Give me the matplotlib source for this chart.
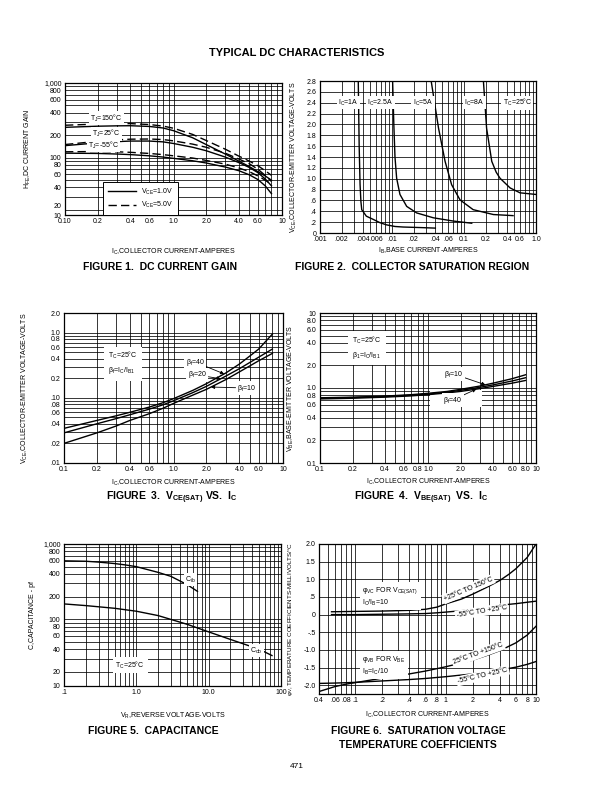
import numpy as np
import matplotlib.pyplot as plt
from matplotlib.ticker import FixedLocator, FixedFormatter, NullFormatter
from matplotlib.lines import Line2D
from matplotlib.patches import Rectangle

plt.rcParams['font.family'] = ['Liberation Sans', 'DejaVu Sans']
plt.rcParams['mathtext.default'] = 'regular'

# ---- figure 1: dc current gain
ic1 = [0.1, 0.2, 0.3, 0.4, 0.6, 0.8, 1.0, 1.5, 2.0, 3.0, 4.0, 5.0, 6.0, 7.0, 8.0]
hfe_150_1v = [255, 264, 267, 268, 262, 250, 230, 185, 150, 112, 90, 76, 65, 57, 50]
hfe_150_5v = [272, 282, 286, 286, 278, 265, 248, 205, 170, 130, 105, 90, 78, 67, 58]
hfe_25_1v = [145, 158, 164, 167, 167, 163, 155, 138, 124, 102, 86, 74, 63, 52, 42]
hfe_25_5v = [150, 166, 173, 177, 178, 175, 168, 152, 138, 115, 96, 83, 70, 58, 48]
hfe_m55_1v = [115, 114, 112, 110, 106, 102, 98, 91, 85, 75, 67, 59, 51, 42, 33]
hfe_m55_5v = [120, 121, 120, 118, 114, 110, 106, 99, 92, 82, 73, 65, 57, 50, 44]

# ---- figure 2: collector saturation region
ib_1a = [0.0034, 0.0035, 0.0036, 0.0037, 0.0038, 0.0044, 0.0055, 0.0068, 0.0084, 0.011, 0.0143, 0.025, 0.04]
vce_1a = [2.8, 1.6, 0.9, 0.58, 0.43, 0.31, 0.25, 0.19, 0.15, 0.12, 0.11, 0.10, 0.09]
ib_25a = [0.0102, 0.0106, 0.011, 0.0116, 0.0129, 0.016, 0.022, 0.0375, 0.071, 0.128]
vce_25a = [2.8, 2.0, 1.4, 1.01, 0.71, 0.49, 0.37, 0.28, 0.22, 0.18]
ib_5a = [0.035, 0.039, 0.0443, 0.0546, 0.0673, 0.088, 0.134, 0.256, 0.48]
vce_5a = [2.8, 2.4, 1.93, 1.32, 0.89, 0.61, 0.43, 0.34, 0.32]
ib_8a = [0.186, 0.195, 0.206, 0.243, 0.28, 0.316, 0.437, 0.6, 1.0]
vce_8a = [2.8, 2.4, 1.93, 1.32, 1.12, 1.01, 0.83, 0.74, 0.71]

# ---- figure 3: vce(sat) vs ic
ic3 = [0.1, 0.2, 0.3, 0.4, 0.6, 0.8, 1.0, 1.5, 2.0, 3.0, 4.0, 5.0, 6.0, 8.0]
vce_b40 = [0.034, 0.045, 0.053, 0.060, 0.072, 0.084, 0.097, 0.13, 0.165, 0.24, 0.33, 0.44, 0.56, 0.95]
vce_b20 = [0.029, 0.040, 0.048, 0.055, 0.067, 0.078, 0.090, 0.12, 0.150, 0.215, 0.28, 0.35, 0.42, 0.56]
vce_b10 = [0.020, 0.029, 0.037, 0.045, 0.057, 0.069, 0.082, 0.11, 0.135, 0.19, 0.25, 0.31, 0.37, 0.48]

# ---- figure 4: vbe(sat) vs ic
ic4 = [0.1, 0.2, 0.4, 0.7, 1.0, 1.5, 2.0, 3.0, 4.0, 6.0, 8.0]
vbe_b10 = [0.74, 0.755, 0.78, 0.815, 0.85, 0.90, 0.96, 1.06, 1.16, 1.33, 1.50]
vbe_b20 = [0.73, 0.745, 0.77, 0.80, 0.83, 0.88, 0.93, 1.02, 1.10, 1.24, 1.37]
vbe_b40 = [0.715, 0.73, 0.755, 0.785, 0.815, 0.86, 0.90, 0.98, 1.05, 1.16, 1.26]

# ---- figure 5: capacitance
vr_ib = [0.1, 0.2, 0.3, 0.5, 0.7, 1.0, 2.0, 3.0, 5.0, 7.0]
cib = [598, 590, 575, 550, 528, 500, 420, 372, 290, 235]
vr_ob = [0.1, 0.2, 0.5, 1.0, 2.0, 5.0, 10, 20, 50, 75]
cob = [160, 152, 140, 128, 112, 86, 68, 54, 40, 33]

# ---- figure 6: temperature coefficients
ic6 = [0.055, 0.1, 0.2, 0.4, 0.6, 0.8, 1.0, 1.5, 2.0, 3.0, 4.0, 5.0, 6.0, 8.0, 10]
vc_hot = [0.08, 0.09, 0.10, 0.12, 0.15, 0.21, 0.30, 0.44, 0.58, 0.80, 0.97, 1.14, 1.30, 1.62, 2.0]
vc_cold = [0.0, 0.0, 0.01, 0.02, 0.03, 0.05, 0.07, 0.11, 0.15, 0.21, 0.26, 0.29, 0.31, 0.35, 0.38]
ic6b = [0.04, 0.06, 0.08, 0.1, 0.2, 0.4, 0.6, 1.0, 2.0, 3.0, 4.0, 6.0, 8.0, 10]
vb_hot = [-2.18, -2.04, -1.97, -1.93, -1.80, -1.68, -1.60, -1.48, -1.29, -1.14, -1.02, -0.80, -0.58, -0.33]
vb_cold = [-1.95, -1.94, -1.93, -1.92, -1.88, -1.84, -1.81, -1.76, -1.68, -1.62, -1.57, -1.49, -1.41, -1.33]

W, H = 594, 791
fig = plt.figure(figsize=(W / 100, H / 100), dpi=100)


def add_ax(x0, y0, x1, y1):
    # page pixel box -> axes
    return fig.add_axes([x0 / W, 1 - y1 / H, (x1 - x0) / W, (y1 - y0) / H])


def style(ax, xt, xl, yt, yl):
    ax.xaxis.set_major_locator(FixedLocator(xt))
    ax.xaxis.set_major_formatter(FixedFormatter(xl))
    ax.yaxis.set_major_locator(FixedLocator(yt))
    ax.yaxis.set_major_formatter(FixedFormatter(yl))
    ax.xaxis.set_minor_formatter(NullFormatter())
    ax.yaxis.set_minor_formatter(NullFormatter())
    ax.tick_params(which='both', length=0, labelsize=5, pad=2.5)
    ax.grid(which='both', color='k', lw=0.55)
    for s in ax.spines.values():
        s.set_linewidth(0.9)


def labels(ax, xlab, ylab, xly, ylx, ysize=5):
    ax.set_xlabel(xlab, fontsize=5)
    ax.set_ylabel(ylab, fontsize=ysize)
    ax.xaxis.set_label_coords(0.5, xly)
    ax.yaxis.set_label_coords(ylx, 0.5)


def logi(x, xs, ys):
    return float(np.exp(np.interp(np.log(x), np.log(xs), np.log(ys))))


def cap(x, y, s):
    fig.text(x / W, 1 - y / H, s, ha='center', va='center', fontsize=7.5, fontweight='bold')


box = dict(fc='white', ec='none', pad=1)
arr = dict(arrowstyle='-|>', lw=0.6, color='k', mutation_scale=5, shrinkA=0, shrinkB=0)
lw = 1.0

# figure 1
ax1 = add_ax(65, 83, 282, 215)
ax1.set_xscale('log')
ax1.set_yscale('log')
ax1.set_xlim(0.1, 10)
ax1.set_ylim(17.1, 1000)
ax1.plot(ic1, hfe_150_1v, 'k-', lw=lw)
ax1.plot(ic1, hfe_150_5v, 'k', ls=(0, (6, 3)), lw=lw)
ax1.plot(ic1, hfe_25_1v, 'k-', lw=lw)
ax1.plot(ic1, hfe_25_5v, 'k', ls=(0, (6, 3)), lw=lw)
ax1.plot(ic1, hfe_m55_1v, 'k-', lw=lw)
ax1.plot(ic1, hfe_m55_5v, 'k', ls=(0, (6, 3)), lw=lw)
style(ax1, [0.1, 0.2, 0.4, 0.6, 1, 2, 4, 6, 10],
      ['0.10', '0.2', '0.4', '0.6', '1.0', '2.0', '4.0', '6.0', '10'],
      [17.1, 20, 40, 60, 80, 100, 200, 400, 600, 800, 1000],
      ['10', '20', '40', '60', '80', '100', '200', '400', '600', '800', '1,000'])
ax1.yaxis.get_major_ticks()[1].label1.set_verticalalignment('bottom')
labels(ax1, 'I$_C$,COLLECTOR CURRENT-AMPERES', 'H$_{FE}$,DC CURRENT GAIN', -0.242, -0.147)
ax1.text(0.17, 340, 'T$_J$=150°C', fontsize=5, va='center', bbox=box)
ax1.text(0.178, 210, 'T$_J$=25°C', fontsize=5, va='center', bbox=box)
ax1.text(0.163, 146, 'T$_J$=-55°C', fontsize=5, va='center', bbox=box)
h1 = [Line2D([], [], color='k', lw=lw), Line2D([], [], color='k', lw=lw, ls=(0, (6, 3)))]
leg = ax1.legend(h1, ['V$_{CE}$=1.0V', 'V$_{CE}$=5.0V'], loc='upper left',
                 bbox_to_anchor=(0.16, 0.28), fontsize=5, fancybox=False,
                 edgecolor='k', framealpha=1, handlelength=4, borderpad=0.7)
leg.get_frame().set_linewidth(0.7)
cap(160, 267, 'FIGURE 1.  DC CURRENT GAIN')

# figure 2
ax2 = add_ax(320, 81, 536, 233)
ax2.set_xscale('log')
ax2.set_xlim(0.001, 1.0)
ax2.set_ylim(0, 2.8)
ax2.plot(ib_1a, vce_1a, 'k-', lw=lw)
ax2.plot(ib_25a, vce_25a, 'k-', lw=lw)
ax2.plot(ib_5a, vce_5a, 'k-', lw=lw)
ax2.plot(ib_8a, vce_8a, 'k-', lw=lw)
style(ax2, [0.001, 0.002, 0.004, 0.006, 0.01, 0.02, 0.04, 0.06, 0.1, 0.2, 0.4, 0.6, 1.0],
      ['.001', '.002', '.004', '.006', '.01', '.02', '.04', '.06', '0.1', '0.2', '0.4', '0.6', '1.0'],
      list(np.arange(0, 2.81, 0.2)),
      ['0', '.2', '.4', '.6', '.8', '1.0', '1.2', '1.4', '1.6', '1.8', '2.0', '2.2', '2.4', '2.6', '2.8'])
labels(ax2, 'I$_B$,BASE CURRENT-AMPERES', 'V$_{CE}$,COLLECTOR-EMITTER VOLTAGE-VOLTS', -0.082, -0.097)
for xx, s in [(0.0025, 'I$_C$=1A'), (0.0069, 'I$_C$=2.5A'), (0.027, 'I$_C$=5A'),
              (0.14, 'I$_C$=8A'), (0.55, 'T$_C$=25°C')]:
    ax2.text(xx, 2.4, s, fontsize=5, ha='center', va='center', bbox=box)
cap(412, 267, 'FIGURE 2.  COLLECTOR SATURATION REGION')

# figure 3
ax3 = add_ax(64, 313, 283, 463)
ax3.set_xscale('log')
ax3.set_yscale('log')
ax3.set_xlim(0.1, 10)
ax3.set_ylim(0.01, 2.0)
ax3.plot(ic3, vce_b40, 'k-', lw=lw)
ax3.plot(ic3, vce_b20, 'k-', lw=lw)
ax3.plot(ic3, vce_b10, 'k-', lw=lw)
style(ax3, [0.1, 0.2, 0.4, 0.6, 1, 2, 4, 6, 10],
      ['0.1', '0.2', '0.4', '0.6', '1.0', '2.0', '4.0', '6.0', '10'],
      [0.01, 0.02, 0.04, 0.06, 0.08, 0.1, 0.2, 0.4, 0.6, 0.8, 1.0, 2.0],
      ['.01', '.02', '.04', '.06', '.08', '.10', '0.2', '0.4', '0.6', '0.8', '1.0', '2.0'])
labels(ax3, 'I$_C$,COLLECTOR CURRENT-AMPERES', 'V$_{CE}$,COLLECTOR-EMITTER VOLTAGE-VOLTS', -0.097, -0.155)
ax3.text(0.2, 0.665, 'T$_C$=25°C\nβ$_f$=I$_C$/I$_{B1}$', transform=ax3.transAxes, fontsize=5,
         va='center', linespacing=1.6, bbox=dict(fc='white', ec='none', pad=3))
ax3.annotate('β$_f$=40', xy=(2.9, logi(2.9, ic3, vce_b40)), xytext=(0.555, 0.673),
             textcoords='axes fraction', fontsize=5, va='center', arrowprops=arr, bbox=box)
ax3.annotate('β$_f$=20', xy=(2.7, logi(2.7, ic3, vce_b20)), xytext=(0.565, 0.587),
             textcoords='axes fraction', fontsize=5, va='center', arrowprops=arr, bbox=box)
ax3.annotate('β$_f$=10', xy=(2.2, logi(2.2, ic3, vce_b10)), xytext=(0.79, 0.5),
             textcoords='axes fraction', fontsize=5, va='center', arrowprops=arr, bbox=box)
cap(172, 498, 'FIGURE  3.  V$_{CE(SAT)}$ VS.  I$_C$')

# figure 4
ax4 = add_ax(320, 313, 536, 463)
ax4.set_xscale('log')
ax4.set_yscale('log')
ax4.set_xlim(0.1, 10)
ax4.set_ylim(0.1, 10)
ax4.add_patch(Rectangle((0.51, 0.373), 0.24, 0.113, transform=ax4.transAxes,
                        fc='white', ec='none', zorder=1.8))
ax4.plot(ic4, vbe_b10, 'k-', lw=lw)
ax4.plot(ic4, vbe_b20, 'k-', lw=lw)
ax4.plot(ic4, vbe_b40, 'k-', lw=lw)
style(ax4, [0.1, 0.2, 0.4, 0.6, 0.8, 1, 2, 4, 6, 8, 10],
      ['0.1', '0.2', '0.4', '0.6', '0.8', '1.0', '2.0', '4.0', '6.0', '8.0', '10'],
      [0.1, 0.2, 0.4, 0.6, 0.8, 1, 2, 4, 6, 8, 10],
      ['0.1', '0.2', '0.4', '0.6', '0.8', '1.0', '2.0', '4.0', '6.0', '8.0', '10'])
labels(ax4, 'I$_C$,COLLECTOR CURRENT-AMPERES', 'V$_{BE}$,BASE-EMITTER VOLTAGE-VOLTS', -0.09, -0.111)
ax4.text(0.15, 0.77, 'T$_C$=25°C\nβ$_1$=I$_C$/I$_{B1}$', transform=ax4.transAxes, fontsize=5,
         va='center', linespacing=1.6, bbox=dict(fc='white', ec='none', pad=3))
ax4.annotate('β$_f$=10', xy=(3.4, logi(3.4, ic4, vbe_b10)), xytext=(0.575, 0.593),
             textcoords='axes fraction', fontsize=5, va='center', arrowprops=arr, bbox=box)
ax4.annotate('β$_f$=40', xy=(2.8, logi(2.8, ic4, vbe_b40)), xytext=(0.57, 0.42),
             textcoords='axes fraction', fontsize=5, va='center', arrowprops=arr, bbox=box)
cap(421, 498, 'FIGURE  4.  V$_{BE(SAT)}$  VS.  I$_C$')

# figure 5
ax5 = add_ax(64, 544, 281, 686)
ax5.set_xscale('log')
ax5.set_yscale('log')
ax5.set_xlim(0.1, 100)
ax5.set_ylim(13.0, 1000)
ax5.plot(vr_ib, cib, 'k-', lw=lw)
ax5.plot(vr_ob, cob, 'k-', lw=lw)
style(ax5, [0.1, 1, 10, 100], ['.1', '1.0', '10.0', '100'],
      [13.0, 20, 40, 60, 80, 100, 200, 400, 600, 800, 1000],
      ['10', '20', '40', '60', '80', '100', '200', '400', '600', '800', '1,000'])
labels(ax5, 'V$_R$,REVERSE VOLTAGE-VOLTS', 'C,CAPACITANCE - pf', -0.173, -0.129)
ax5.text(5.6, 335, 'C$_{ib}$', fontsize=5, ha='center', va='center', bbox=box)
ax5.text(46, 38, 'C$_{ob}$', fontsize=5, ha='center', va='center', bbox=box)
ax5.text(0.305, 0.148, 'T$_C$=25°C', transform=ax5.transAxes, fontsize=5,
         ha='center', va='center', bbox=dict(fc='white', ec='none', pad=2))
cap(153, 731, 'FIGURE 5.  CAPACITANCE')

# figure 6
ax6 = add_ax(319, 544, 536, 694)
ax6.set_xscale('log')
ax6.set_xlim(0.04, 10)
ax6.set_ylim(-2.25, 2.0)
ax6.plot(ic6, vc_hot, 'k-', lw=lw)
ax6.plot(ic6, vc_cold, 'k-', lw=lw)
ax6.plot(ic6b, vb_hot, 'k-', lw=lw)
ax6.plot(ic6b, vb_cold, 'k-', lw=lw)
style(ax6, [0.04, 0.06, 0.08, 0.1, 0.2, 0.4, 0.6, 0.8, 1, 2, 4, 6, 8, 10],
      ['0.4', '.06', '.08', '.1', '.2', '.4', '.6', '.8', '1', '2', '4', '6', '8', '10'],
      [2.0, 1.5, 1.0, 0.5, 0, -0.5, -1.0, -1.5, -2.0],
      ['2.0', '1.5', '1.0', '.5', '0', '-.5', '-1.0', '-1.5', '-2.0'])
labels(ax6, 'I$_C$,COLLECTOR CURRENT-AMPERES',
       'φ$_V$, TEMPERATURE COEFFICIENTS-MILLIVOLTS/°C', -0.103, -0.112, ysize=4.5)
ax6.text(0.2, 0.65, 'φ$_{VC}$ FOR V$_{CE(SAT)}$\nI$_C$/I$_B$=10', transform=ax6.transAxes,
         fontsize=5, va='center', linespacing=1.25, bbox=dict(fc='white', ec='none', pad=1.5))
ax6.text(0.2, 0.19, 'φ$_{VB}$ FOR V$_{BE}$\nI$_B$=I$_C$/10', transform=ax6.transAxes,
         fontsize=5, va='center', linespacing=1.25, bbox=dict(fc='white', ec='none', pad=1.5))
ax6.text(1.79, 0.72, '+25°C TO 150°C', fontsize=5, ha='center', va='center', rotation=23, bbox=box)
ax6.text(2.51, 0.09, '-55°C TO +25°C', fontsize=5, ha='center', va='center', rotation=9, bbox=box)
ax6.text(2.30, -1.11, '25°C TO +150°C', fontsize=5, ha='center', va='center', rotation=20, bbox=box)
ax6.text(2.58, -1.73, '-55°C TO +25°C', fontsize=5, ha='center', va='center', rotation=13, bbox=box)
cap(418, 731, 'FIGURE 6.  SATURATION VOLTAGE')
cap(418, 745, 'TEMPERATURE COEFFICIENTS')

fig.text(297 / W, 1 - 53 / H, 'TYPICAL DC CHARACTERISTICS', ha='center', va='center',
         fontsize=8, fontweight='bold')
fig.text(297 / W, 1 - 767 / H, '471', ha='center', va='center', fontsize=6)

fig.savefig('out.png', dpi=100)
